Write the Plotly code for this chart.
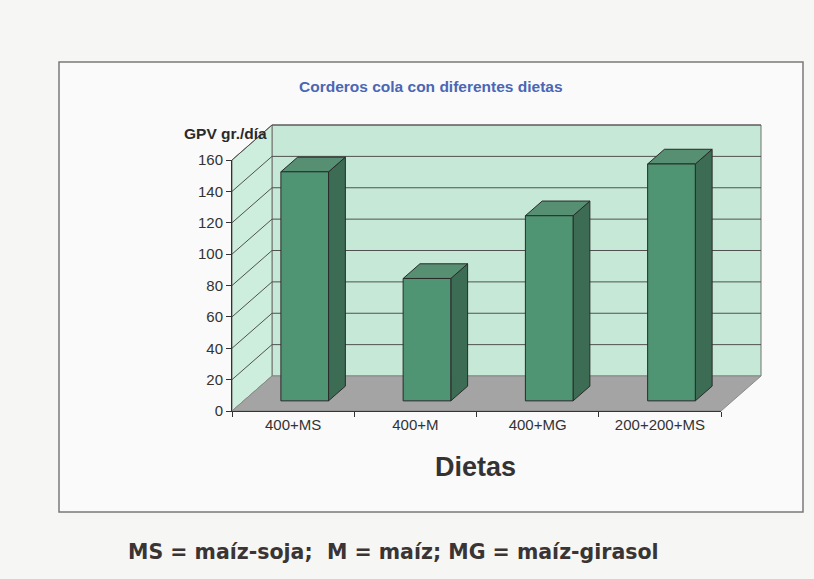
import plotly.graph_objects as go

# ---------------- data ----------------
categories = ["400+MS", "400+M", "400+MG", "200+200+MS"]
gpv_values = [146, 78, 118, 151]
y_ticks = [0, 20, 40, 60, 80, 100, 120, 140, 160]
title_text = "Corderos cola con diferentes dietas"
y_title = "GPV gr./día"
x_title = "Dietas"
footnote = "MS = maíz-soja;  M = maíz; MG = maíz-girasol"

# ---------------- geometry (layout only) ----------------
W, H = 814, 579
X0_PX, X1_PX = 232, 721      # front floor edge, pixels
Y0_PX, YT_PX = 411, 160      # front value 0 and top tick, pixels
n = len(categories)
vmax = y_ticks[-1]
px_cat = (X1_PX - X0_PX) / n
px_val = (Y0_PX - YT_PX) / vmax
DX = 40 / px_cat             # depth offset in category units
DY = 35 / px_val             # depth offset in value units
D0, D1 = 0.29, 0.71          # bar depth span
HALF = 0.195                 # half bar width

xr = [-0.5 - X0_PX / px_cat, -0.5 + (W - X0_PX) / px_cat]
yr = [-(H - Y0_PX) / px_val, Y0_PX / px_val]

C_FRONT = "#4f9574"
C_SIDE = "#3d6c55"
C_TOP = "#578f72"
C_WALL = "#c6e8d6"
C_LWALL = "#cdeedc"
C_FLOOR = "#a4a4a4"
C_EDGE = "#2a2a2a"
C_GRID = "#505050"

fig = go.Figure()

def poly(xs, ys, fill, line="#606060", width=1):
    fig.add_trace(go.Scatter(x=xs, y=ys, mode="lines", fill="toself",
                             fillcolor=fill, line=dict(color=line, width=width),
                             hoverinfo="skip", showlegend=False))

L, R = -0.5, n - 0.5
# back wall
poly([L + DX, R + DX, R + DX, L + DX, L + DX],
     [DY, DY, vmax + DY, vmax + DY, DY], C_WALL, line="#707070")
# left wall
poly([L, L + DX, L + DX, L, L], [0, DY, vmax + DY, vmax, 0], C_LWALL, line="#707070")
# floor
poly([L, R, R + DX, L + DX, L], [0, 0, DY, DY, 0], C_FLOOR, line="#8a8a8a")

# gridlines on walls
gx, gy = [], []
for t in y_ticks[1:]:
    gx += [L, L + DX, R + DX, None]
    gy += [t, t + DY, t + DY, None]
fig.add_trace(go.Scatter(x=gx, y=gy, mode="lines", line=dict(color=C_GRID, width=1),
                         hoverinfo="skip", showlegend=False))

# bars: front, side and top faces built from the values
fx, fy, sx, sy, tx, ty = [], [], [], [], [], []
for i, v in enumerate(gpv_values):
    xl, xrr = i - HALF, i + HALF
    fx += [xl + D0 * DX, xrr + D0 * DX, xrr + D0 * DX, xl + D0 * DX, xl + D0 * DX, None]
    fy += [D0 * DY, D0 * DY, v + D0 * DY, v + D0 * DY, D0 * DY, None]
    sx += [xrr + D0 * DX, xrr + D1 * DX, xrr + D1 * DX, xrr + D0 * DX, xrr + D0 * DX, None]
    sy += [D0 * DY, D1 * DY, v + D1 * DY, v + D0 * DY, D0 * DY, None]
    tx += [xl + D0 * DX, xrr + D0 * DX, xrr + D1 * DX, xl + D1 * DX, xl + D0 * DX, None]
    ty += [v + D0 * DY, v + D0 * DY, v + D1 * DY, v + D1 * DY, v + D0 * DY, None]
for xs, ys, col in ((sx, sy, C_SIDE), (tx, ty, C_TOP), (fx, fy, C_FRONT)):
    fig.add_trace(go.Scatter(x=xs, y=ys, mode="lines", fill="toself", fillcolor=col,
                             line=dict(color=C_EDGE, width=1), hoverinfo="skip",
                             showlegend=False))

# dummy trace to carry the visible front axes
fig.add_trace(go.Scatter(x=categories, y=gpv_values, xaxis="x2", yaxis="y2",
                         mode="markers", marker=dict(opacity=0), hoverinfo="skip",
                         showlegend=False))

font = "Liberation Sans, Arial, sans-serif"

def note(text, x, y, size, color, family=font):
    return dict(text=text, xref="paper", yref="paper", x=x / W, y=1 - y / H,
                xanchor="center", yanchor="middle", showarrow=False,
                font=dict(family=family, size=size, color=color))

fig.update_layout(
    width=W, height=H,
    margin=dict(l=0, r=0, t=0, b=0, pad=0, autoexpand=False),
    paper_bgcolor="#f6f6f4",
    plot_bgcolor="rgba(0,0,0,0)",
    showlegend=False,
    xaxis=dict(domain=[0, 1], range=xr, visible=False, fixedrange=True, automargin=False),
    yaxis=dict(domain=[0, 1], range=yr, visible=False, fixedrange=True, automargin=False),
    xaxis2=dict(domain=[X0_PX / W, X1_PX / W], anchor="y2", type="category",
                categoryarray=categories, categoryorder="array", range=[-0.5, n - 0.5],
                tickson="boundaries", ticks="outside", ticklen=5, tickcolor="#333",
                showline=True, linecolor="#333", linewidth=1, showgrid=False,
                automargin=False,
                tickfont=dict(family=font, size=15, color="#333"), fixedrange=True),
    yaxis2=dict(domain=[1 - Y0_PX / H, 1 - YT_PX / H], anchor="x2", range=[0, vmax],
                tickvals=y_ticks, ticks="outside", ticklen=5, tickcolor="#333",
                showline=True, linecolor="#333", linewidth=1, showgrid=False,
                zeroline=False, automargin=False,
                tickfont=dict(family=font, size=15, color="#333"),
                fixedrange=True),
    shapes=[dict(type="rect", xref="paper", yref="paper", layer="below",
                 x0=59 / W, x1=803 / W, y0=1 - 512 / H, y1=1 - 62 / H,
                 line=dict(color="#7a7a7a", width=1.5), fillcolor="#fafafa")],
    annotations=[
        note("<b>" + title_text + "</b>", 431, 86, 15.5, "#4a66b4"),
        note("<b>" + y_title + "</b>", 225, 133, 15.5, "#2a2a2a"),
        note("<b>" + x_title + "</b>", 475, 467, 27, "#333"),
        note("<b>" + footnote + "</b>", 393, 552, 20.5, "#3a3434",
             family="DejaVu Sans, sans-serif"),
    ],
)

fig.write_html("out.html", config={"displayModeBar": False},
               post_script="document.body.style.margin='0';")
